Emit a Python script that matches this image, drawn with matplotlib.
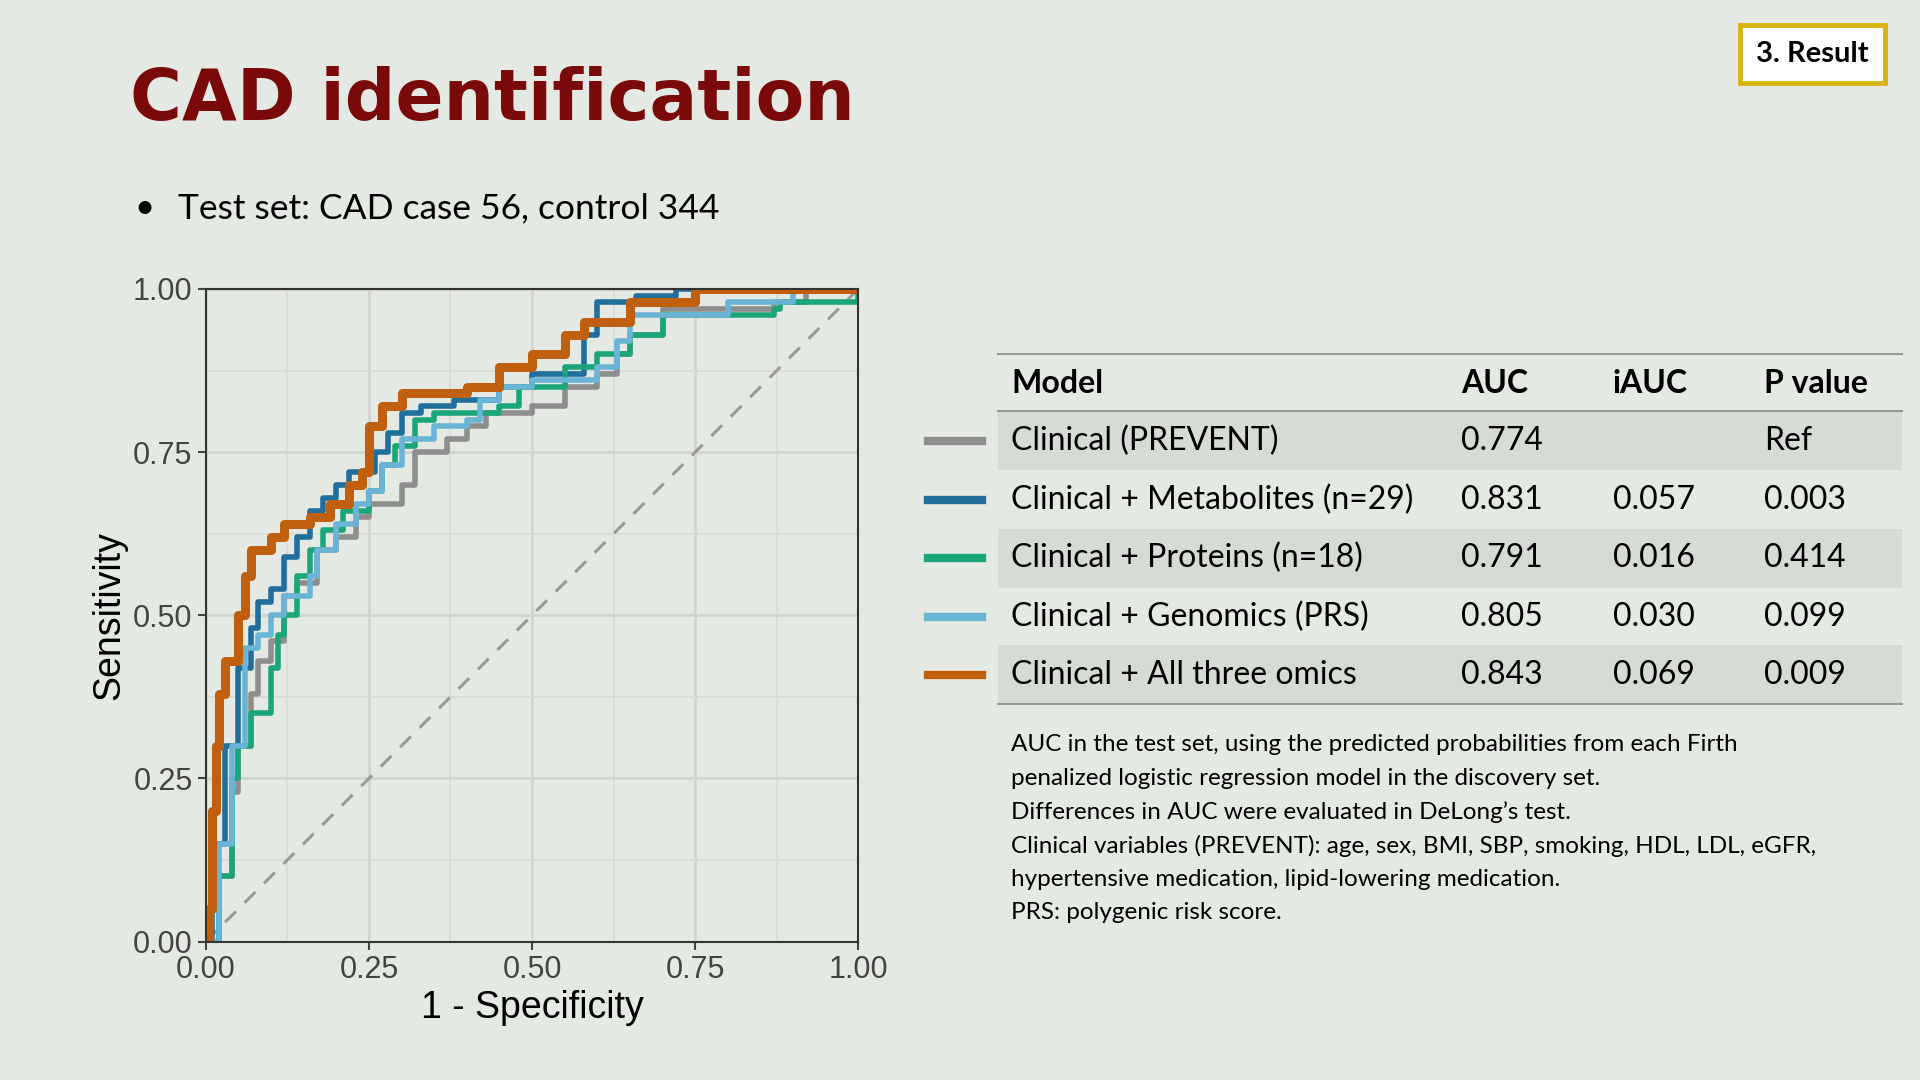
import matplotlib
matplotlib.use("Agg")
import matplotlib.pyplot as plt
from matplotlib.patches import Rectangle
from matplotlib.lines import Line2D

# ROC step points (1 - specificity, sensitivity)
fpr_clin = [0, 0.02, 0.04, 0.05, 0.07, 0.08, 0.10, 0.12, 0.14, 0.17, 0.20, 0.23, 0.25, 0.30, 0.32, 0.37, 0.40, 0.43, 0.50, 0.55, 0.60, 0.63, 0.65, 0.70, 0.87, 0.92, 1.0]
tpr_clin = [0, 0.10, 0.23, 0.30, 0.38, 0.43, 0.46, 0.53, 0.55, 0.60, 0.62, 0.65, 0.67, 0.70, 0.75, 0.77, 0.79, 0.81, 0.82, 0.85, 0.87, 0.90, 0.93, 0.97, 0.98, 1.0, 1.0]
fpr_met = [0, 0.01, 0.03, 0.05, 0.07, 0.08, 0.10, 0.12, 0.14, 0.16, 0.18, 0.20, 0.22, 0.26, 0.28, 0.30, 0.33, 0.38, 0.45, 0.50, 0.58, 0.60, 0.66, 0.72, 1.0]
tpr_met = [0, 0.15, 0.30, 0.42, 0.48, 0.52, 0.54, 0.59, 0.62, 0.66, 0.68, 0.70, 0.72, 0.75, 0.78, 0.81, 0.82, 0.83, 0.85, 0.87, 0.93, 0.98, 0.99, 1.0, 1.0]
fpr_prot = [0, 0.02, 0.04, 0.05, 0.07, 0.10, 0.11, 0.12, 0.14, 0.16, 0.18, 0.21, 0.25, 0.27, 0.29, 0.32, 0.35, 0.45, 0.48, 0.55, 0.60, 0.65, 0.70, 0.87, 0.88, 1.0]
tpr_prot = [0, 0.10, 0.25, 0.30, 0.35, 0.42, 0.47, 0.50, 0.56, 0.60, 0.63, 0.66, 0.69, 0.73, 0.76, 0.80, 0.81, 0.82, 0.85, 0.88, 0.90, 0.93, 0.96, 0.97, 0.98, 1.0]
fpr_prs = [0, 0.02, 0.04, 0.06, 0.08, 0.10, 0.12, 0.16, 0.17, 0.20, 0.23, 0.25, 0.27, 0.30, 0.35, 0.40, 0.42, 0.45, 0.50, 0.60, 0.63, 0.65, 0.80, 0.90, 1.0]
tpr_prs = [0, 0.15, 0.30, 0.45, 0.47, 0.50, 0.53, 0.56, 0.60, 0.64, 0.67, 0.69, 0.73, 0.77, 0.79, 0.80, 0.83, 0.85, 0.86, 0.88, 0.92, 0.96, 0.98, 1.0, 1.0]
fpr_all = [0, 0.005, 0.01, 0.015, 0.02, 0.03, 0.05, 0.06, 0.07, 0.10, 0.12, 0.16, 0.19, 0.22, 0.24, 0.25, 0.27, 0.30, 0.40, 0.45, 0.50, 0.55, 0.58, 0.65, 0.75, 1.0]
tpr_all = [0, 0.05, 0.20, 0.30, 0.38, 0.43, 0.50, 0.56, 0.60, 0.62, 0.64, 0.65, 0.67, 0.70, 0.72, 0.79, 0.82, 0.84, 0.85, 0.88, 0.90, 0.93, 0.95, 0.98, 1.0, 1.0]

models = ["Clinical (PREVENT)", "Clinical + Metabolites (n=29)", "Clinical + Proteins (n=18)",
          "Clinical + Genomics (PRS)", "Clinical + All three omics"]
auc = ["0.774", "0.831", "0.791", "0.805", "0.843"]
iauc = ["", "0.057", "0.016", "0.030", "0.069"]
pval = ["Ref", "0.003", "0.414", "0.099", "0.009"]
colors = ["#8e8e8e", "#1f6e9c", "#1aa57a", "#6ab4d6", "#c0600f"]
curves = [(fpr_clin, tpr_clin), (fpr_met, tpr_met), (fpr_prot, tpr_prot),
          (fpr_prs, tpr_prs), (fpr_all, tpr_all)]

bg = "#e5e9e3"
fig = plt.figure(figsize=(19.2, 10.8), dpi=100, facecolor=bg)

def fy(y):  # reference pixel rows (882 high) to figure fraction
    return 1 - y / 882

def fx(x):
    return x / 1568

fig.text(fx(106), fy(82), "CAD identification", fontsize=51, fontweight="heavy",
         color="#7a0a0a", family="DejaVu Sans", va="center")
fig.text(fx(110), fy(170), "•", fontsize=25, family="Lato", va="center")
fig.text(fx(145), fy(170), "Test set: CAD case 56, control 344", fontsize=25.5,
         family="Lato", va="center")
fig.text(fx(1480), fy(44), "3. Result", fontsize=21, fontweight="bold", family="Lato",
         ha="center", va="center",
         bbox=dict(boxstyle="square,pad=0.55", fc="white", ec="#d8b411", lw=3.5))

ax = fig.add_axes([fx(168), fy(769), fx(701) - fx(168), fy(236) - fy(769)])
ax.set_facecolor(bg)
ax.plot([0, 1], [0, 1], ls=(0, (5, 4)), color="#9a9a9a", lw=2.2)
for (x, y), c in zip(curves, colors):
    ax.plot(x, y, drawstyle="steps-post", color=c, lw=6.5 if c == "#c0600f" else 4)
ax.set_xlim(0, 1)
ax.set_ylim(0, 1)
ticks = [0, 0.25, 0.5, 0.75, 1.0]
labels = ["0.00", "0.25", "0.50", "0.75", "1.00"]
ax.set_xticks(ticks)
ax.set_yticks(ticks)
ax.set_xticklabels(labels, family="Liberation Sans")
ax.set_yticklabels(labels, family="Liberation Sans")
ax.set_xticks([0.125, 0.375, 0.625, 0.875], minor=True)
ax.set_yticks([0.125, 0.375, 0.625, 0.875], minor=True)
ax.grid(True, which="major", color="#d2d4d0", lw=2)
ax.grid(True, which="minor", color="#d8dad6", lw=1.2)
ax.tick_params(which="minor", length=0)
ax.tick_params(labelsize=22, colors="#444444", length=6, width=1.5)
for s in ax.spines.values():
    s.set_color("#333333")
    s.set_linewidth(1.5)
ax.set_xlabel("1 - Specificity", fontsize=27, family="Liberation Sans")
ax.set_ylabel("Sensitivity", fontsize=27, family="Liberation Sans")
ax.set_axisbelow(True)

# table
row_y = [360, 408, 456, 504, 551]
cols = [826, 1193, 1317, 1441]
for i, y in enumerate(row_y):
    if i % 2 == 0:
        fig.patches.append(Rectangle((fx(815), fy(y + 24)), fx(1553) - fx(815), fy(y - 24) - fy(y + 24),
                                     transform=fig.transFigure, fc="#d7dbd5", ec="none"))
    fig.lines.append(Line2D([fx(758), fx(802)], [fy(y), fy(y)], transform=fig.transFigure,
                            color=colors[i], lw=6))
    for x, t in zip(cols, [models[i], auc[i], iauc[i], pval[i]]):
        fig.text(fx(x), fy(y), t, fontsize=23, family="Lato", va="center")
for x, t in zip(cols, ["Model", "AUC", "iAUC", "P value"]):
    fig.text(fx(x), fy(313), t, fontsize=23, family="Lato", fontweight="bold", va="center")
for y in [289, 336, 575]:
    fig.lines.append(Line2D([fx(815), fx(1553)], [fy(y), fy(y)], transform=fig.transFigure,
                            color="#999999", lw=1.5))

notes = ["AUC in the test set, using the predicted probabilities from each Firth",
         "penalized logistic regression model in the discovery set.",
         "Differences in AUC were evaluated in DeLong\u2019s test.",
         "Clinical variables (PREVENT): age, sex, BMI, SBP, smoking, HDL, LDL, eGFR,",
         "hypertensive medication, lipid-lowering medication.",
         "PRS: polygenic risk score."]
for k, t in enumerate(notes):
    fig.text(fx(826), fy(608 + 27.5 * k), t, fontsize=17.5, family="Lato", va="center")

fig.savefig("out.png", dpi=100, facecolor=bg)
